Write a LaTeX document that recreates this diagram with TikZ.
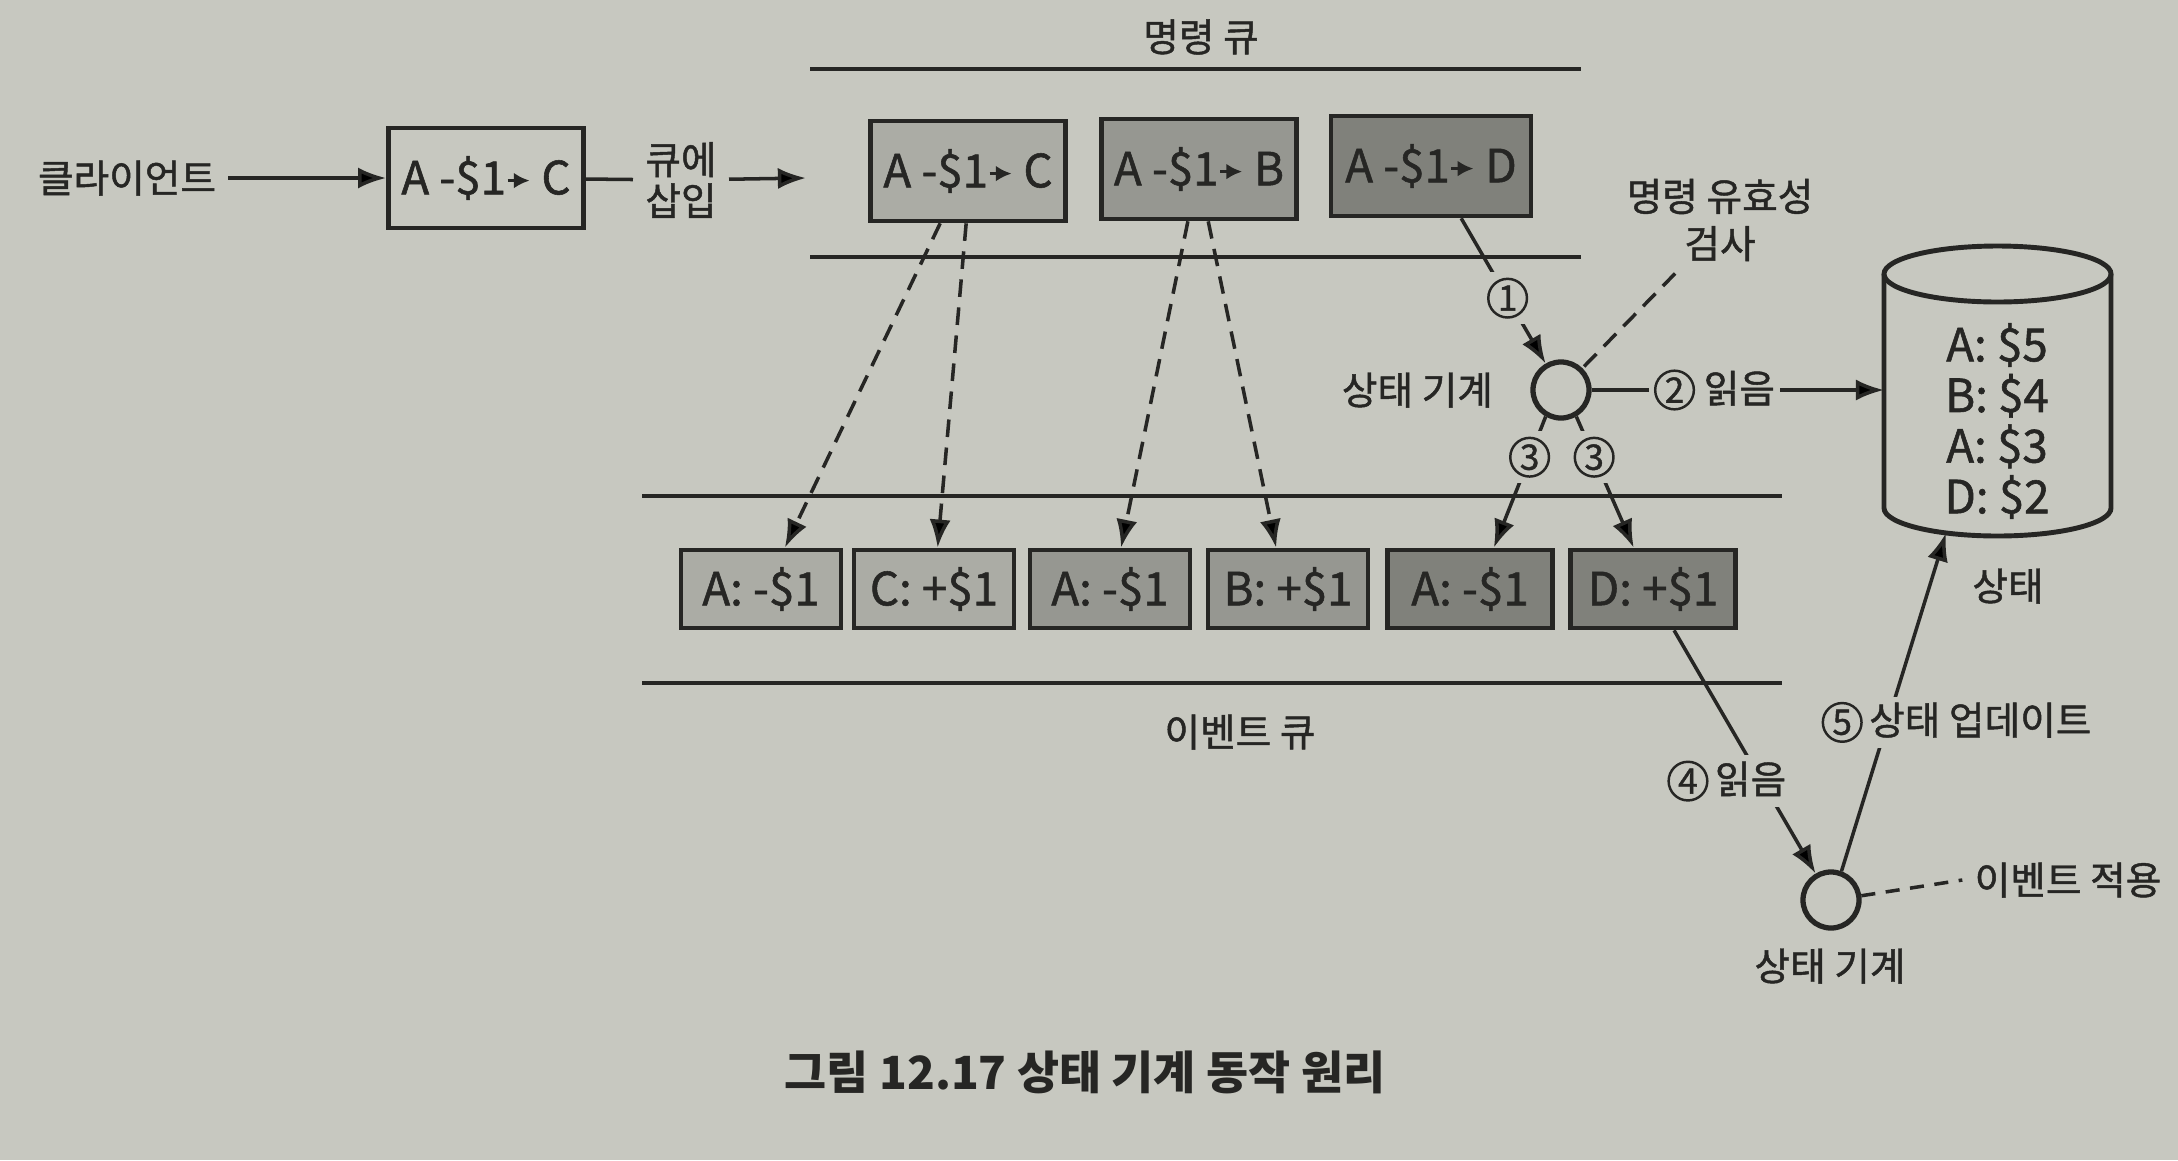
\documentclass[tikz,border=0pt]{standalone}
\usepackage{fontspec}
\setmainfont{Noto Sans CJK KR}
\newfontfamily\figfont{Noto Sans CJK KR}[FakeBold=1.2]
\usetikzlibrary{arrows.meta,positioning}

\definecolor{paper}{RGB}{199,200,192}
\definecolor{ink}{RGB}{38,38,36}
\definecolor{lightbox}{RGB}{171,172,165}
\definecolor{midbox}{RGB}{150,151,145}
\definecolor{darkbox}{RGB}{128,129,123}

\newcommand{\cmdarrow}{\tikz[baseline=-0.3em]\draw[ink,line width=0.9pt,-{Latex[length=4.5pt,width=4.5pt]}] (0,0) -- (0.22cm,0);}
\newcommand{\circnum}[1]{\tikz[baseline=(n.base)]\node[draw=ink, circle, line width=0.7pt, inner sep=0pt, minimum size=11pt, font=\figfont\fontsize{10}{10}\selectfont] (n) {#1};}

\begin{document}
\begin{tikzpicture}[
            x=0.01cm, y=-0.01cm,
            >={Latex[length=8pt,width=6pt]},
            txt/.style={text=ink, font=\figfont\fontsize{11}{12.5}\selectfont},
            num/.style={txt, fill=paper, inner sep=1.5pt},
            cmd/.style={draw=ink, line width=1.3pt, text=ink, minimum width=1.95cm, minimum height=1cm, font=\figfont\fontsize{13}{15}\selectfont},
            evt/.style={draw=ink, line width=1.3pt, text=ink, minimum width=1.6cm, minimum height=0.78cm, font=\figfont\fontsize{13}{15}\selectfont},
            sm/.style={draw=ink, circle, line width=1.5pt, fill=paper, minimum size=0.56cm, inner sep=0pt},
            queue/.style={draw=ink, line width=1.4pt},
            flow/.style={draw=ink, line width=1pt, ->},
            dashflow/.style={flow, dash pattern=on 5pt off 3pt}
            ]

            \fill[paper] (0,0) rectangle (2178,1160);

            % client side
            \node (client) at (127,178) [txt] {클라이언트};
            \node (cbox) at (486,178) [cmd, fill=paper] {A -\$1\cmdarrow{} C};
            \node (insert) at (681,180) [txt, font=\figfont\fontsize{11}{11.7}\selectfont, align=center] {큐에\\삽입};
            \coordinate (qin) at (806,178);

            \draw[flow] (client) -- (cbox);
            \draw[draw=ink, line width=1pt] (cbox) -- (insert);
            \draw[flow] (insert) -- (qin);

            % command queue
            \node (cmdq) at (1201,37) [txt] {명령 큐};
            \draw[queue] (810,69) -- (1581,69);
            \draw[queue] (810,257) -- (1581,257);
            \node (qC) at (968,171) [cmd, fill=lightbox] {A -\$1\cmdarrow{} C};
            \node (qB) at (1199,169) [cmd, fill=midbox] {A -\$1\cmdarrow{} B};
            \node (qD) at (1431,166) [cmd, fill=darkbox, minimum width=2cm] {A -\$1\cmdarrow{} D};

            % event queue
            \draw[queue] (642,496) -- (1782,496);
            \draw[queue] (642,683) -- (1782,683);
            \node (e1) at (761,589) [evt, fill=lightbox] {A: -\$1};
            \node (e2) at (934,589) [evt, fill=lightbox] {C: +\$1};
            \node (e3) at (1110,589) [evt, fill=midbox] {A: -\$1};
            \node (e4) at (1288,589) [evt, fill=midbox] {B: +\$1};
            \node (e5) at (1470,589) [evt, fill=darkbox, minimum width=1.65cm] {A: -\$1};
            \node (e6) at (1653,589) [evt, fill=darkbox, minimum width=1.65cm] {D: +\$1};
            \node (evtq) at (1240,732) [txt] {이벤트 큐};

            \draw[dashflow] (qC.-118) -- (e1.60);
            \draw[dashflow] (qC.-92) -- (e2.85);
            \draw[dashflow] (qB.-102) -- (e3.75);
            \draw[dashflow] (qB.-80) -- (e4.106);

            % state store
            \draw[ink, line width=1.4pt] (1884,274) -- (1884,508) arc[start angle=180, end angle=0, x radius=113.5, y radius=28] -- (2111,274);
            \draw[ink, line width=1.4pt] (1997.5,274) ellipse[x radius=113.5, y radius=28];
            \node (store) at (1997,421) [txt, font=\figfont\fontsize{13}{14.4}\selectfont, align=center] {A: \$5\\B: \$4\\A: \$3\\D: \$2};
            \node (storelbl) at (2008,586) [txt] {상태};
            \coordinate (dbin) at (1884,390);
            \coordinate (dbup) at (1946,533);

            % first state machine
            \node (sm1) at (1561,390) [sm] {};
            \node (sm1lbl) [txt, left=0.25cm of sm1] {상태 기계};
            \node (check) at (1720,220) [txt, font=\figfont\fontsize{11}{13.4}\selectfont, align=center] {명령 유효성\\검사};

            \draw[draw=ink, line width=1pt, dash pattern=on 5pt off 3pt] (check.-130) -- (sm1);
            \draw[flow] (qD.-60) -- node[num, pos=0.55] {\circnum{1}} (sm1);
            \draw[flow] (sm1) -- node[num, pos=0.42] {\circnum{2} 읽음} (dbin);
            \draw[flow] (sm1.-120) -- node[num, pos=0.31] {\circnum{3}} (e5.60);
            \draw[flow] (sm1.-60) -- node[num, pos=0.31] {\circnum{3}} (e6.115);

            % second state machine
            \node (sm2) at (1831,900) [sm] {};
            \node (sm2lbl) at (1830,966) [txt] {상태 기계};
            \node (apply) at (2068,880) [txt] {이벤트 적용};

            \draw[flow] (e6.-63) -- node[num, pos=0.62, xshift=-0.35cm] {\circnum{4}\,읽음} (sm2);
            \draw[flow] (sm2.70) -- node[num, pos=0.44, xshift=0.69cm] {\circnum{5}\,상태 업데이트} (dbup);
            \draw[draw=ink, line width=1pt, dash pattern=on 4pt off 3pt] (sm2.8) -- (apply.west);

            \node (caption) at (1085,1072) [text=ink, font=\fontsize{13}{15}\selectfont\bfseries] {그림 12.17 상태 기계 동작 원리};
        \end{tikzpicture}
\end{document}
